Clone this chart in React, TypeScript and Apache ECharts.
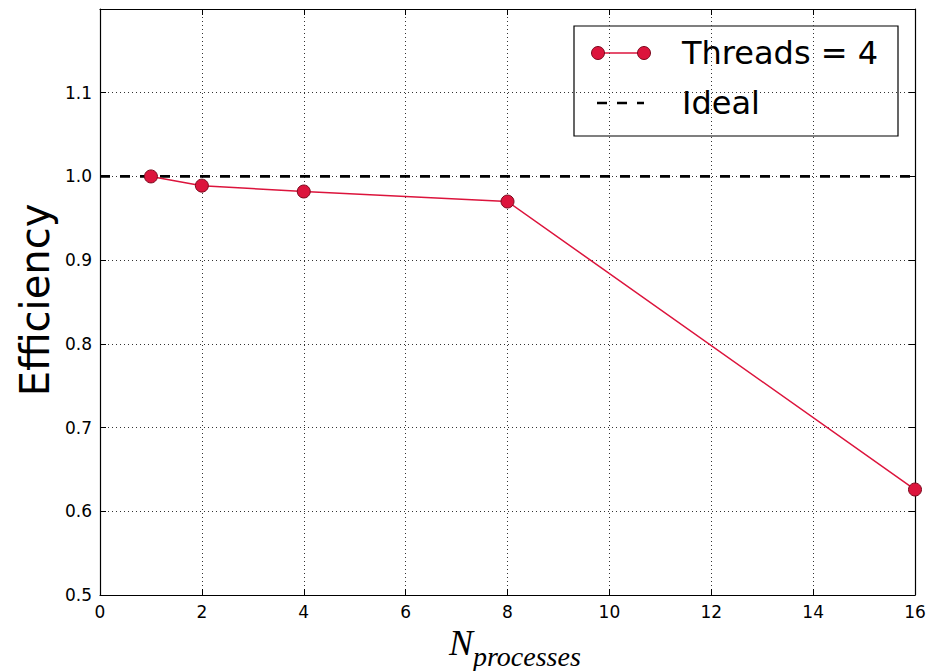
import React, { useEffect, useRef } from "react";
import * as echarts from "echarts";

const seriesName = "Threads = 4";
const idealName = "Ideal";
const processes = [1, 2, 4, 8, 16];
const efficiency = [1.0, 0.989, 0.982, 0.97, 0.626];
const idealX = [0, 16];
const idealY = [1.0, 1.0];

const RED = "#dc143c";
const EDGE = "#7a0a1e";

export default function App() {
  const ref = useRef<HTMLDivElement>(null);
  useEffect(() => {
    if (!ref.current) return;
    const chart = echarts.init(ref.current, undefined, { renderer: "svg" });
    const tickFont = { fontFamily: "DejaVu Sans", fontSize: 17, color: "#000" };
    const grid = { left: 100, top: 9, right: 18, bottom: 76 };
    const mkX = (pos: "bottom" | "top", labels: boolean) => ({
      type: "value",
      position: pos,
      min: 0,
      max: 16,
      interval: 2,
      axisLine: { show: true, onZero: false, lineStyle: { color: "#000", width: 1.2 } },
      axisTick: { show: true, inside: true, length: 6, lineStyle: { color: "#000" } },
      axisLabel: labels ? { ...tickFont, margin: 8 } : { show: false },
      splitLine: labels
        ? { show: true, lineStyle: { color: "#333", type: [1, 3], width: 1 } }
        : { show: false },
    });
    const mkY = (pos: "left" | "right", labels: boolean) => ({
      type: "value",
      position: pos,
      min: 0.5,
      max: 1.2,
      interval: 0.1,
      axisLine: { show: true, onZero: false, lineStyle: { color: "#000", width: 1.2 } },
      axisTick: { show: true, inside: true, length: 6, lineStyle: { color: "#000" } },
      axisLabel: labels
        ? { ...tickFont, margin: 8, showMaxLabel: false, formatter: (v: number) => v.toFixed(1) }
        : { show: false },
      splitLine: labels
        ? { show: true, lineStyle: { color: "#333", type: [1, 3], width: 1 } }
        : { show: false },
    });

    const legendLeft = 574;
    const legendTop = 26;
    chart.setOption({
      animation: false,
      backgroundColor: "#fff",
      grid,
      xAxis: [mkX("bottom", true), mkX("top", false)],
      yAxis: [mkY("left", true), mkY("right", false)],
      series: [
        {
          name: idealName,
          type: "line",
          data: idealX.map((x, i) => [x, idealY[i]]),
          symbol: "none",
          lineStyle: { color: "#000", width: 2.7, type: [10, 10] },
          z: 3,
        },
        {
          name: seriesName,
          type: "line",
          data: processes.map((x, i) => [x, efficiency[i]]),
          symbol: "circle",
          symbolSize: 13,
          lineStyle: { color: RED, width: 1.5 },
          itemStyle: { color: RED, borderColor: EDGE, borderWidth: 1 },
          z: 4,
        },
      ],
      graphic: [
        {
          type: "text",
          x: 35,
          y: 300,
          rotation: Math.PI / 2,
          style: {
            text: "Efficiency",
            fontFamily: "DejaVu Sans",
            fontSize: 40,
            fill: "#000",
            align: "center",
            verticalAlign: "middle",
          },
        },
        {
          type: "text",
          x: 473,
          y: 643,
          style: {
            text: "N",
            fontFamily: "Liberation Serif",
            fontStyle: "italic",
            fontSize: 36,
            fill: "#000",
            align: "right",
            verticalAlign: "middle",
          },
        },
        {
          type: "text",
          x: 473,
          y: 656,
          style: {
            text: "processes",
            fontFamily: "Liberation Serif",
            fontStyle: "italic",
            fontSize: 28,
            fill: "#000",
            align: "left",
            verticalAlign: "middle",
          },
        },
        {
          type: "group",
          x: legendLeft,
          y: legendTop,
          z: 100,
          children: [
            {
              type: "rect",
              shape: { x: 0, y: 0, width: 324, height: 110 },
              style: { fill: "#fff", stroke: "#000", lineWidth: 1.2 },
            },
            {
              type: "line",
              shape: { x1: 24, y1: 27, x2: 70, y2: 27 },
              style: { stroke: RED, lineWidth: 1.5 },
            },
            {
              type: "circle",
              shape: { cx: 24, cy: 27, r: 6.5 },
              style: { fill: RED, stroke: EDGE, lineWidth: 1 },
            },
            {
              type: "circle",
              shape: { cx: 70, cy: 27, r: 6.5 },
              style: { fill: RED, stroke: EDGE, lineWidth: 1 },
            },
            {
              type: "text",
              x: 108,
              y: 27,
              style: {
                text: seriesName,
                fontFamily: "DejaVu Sans",
                fontSize: 32,
                fill: "#000",
                verticalAlign: "middle",
              },
            },
            {
              type: "line",
              shape: { x1: 23, y1: 77, x2: 70, y2: 77 },
              style: { stroke: "#000", lineWidth: 2.7, lineDash: [10, 10] },
            },
            {
              type: "text",
              x: 108,
              y: 77,
              style: {
                text: idealName,
                fontFamily: "DejaVu Sans",
                fontSize: 32,
                fill: "#000",
                verticalAlign: "middle",
              },
            },
          ],
        },
      ],
    });
    return () => chart.dispose();
  }, []);
  return (
    <div
      ref={ref}
      style={{ position: "absolute", left: 0, top: 0, width: 933, height: 671 }}
    />
  );
}
